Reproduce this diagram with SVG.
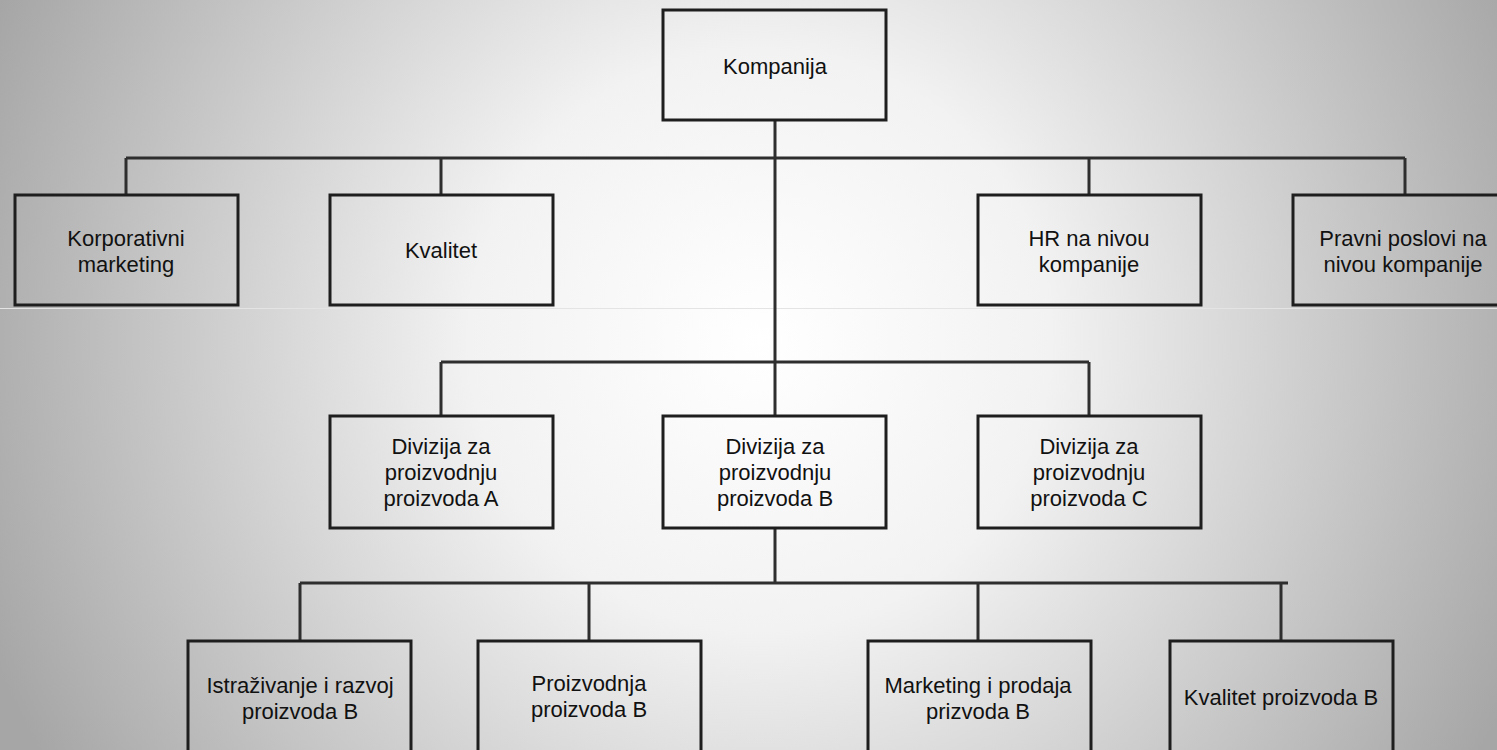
<svg xmlns="http://www.w3.org/2000/svg" width="1497" height="750" viewBox="0 0 1497 750">
  <defs>
    <radialGradient id="bg" cx="760" cy="340" r="830" gradientUnits="userSpaceOnUse">
      <stop offset="0" stop-color="#ffffff"/>
      <stop offset="0.35" stop-color="#f2f2f2"/>
      <stop offset="1" stop-color="#a6a6a6"/>
    </radialGradient>
    <style>
      .box { fill: none; stroke: #1e1e1e; stroke-width: 3; }
      .wire { fill: none; stroke: #2e2e2e; stroke-width: 3; }
      .lbl { font-family: "Liberation Sans", Arial, sans-serif; font-size: 22px; fill: #111; text-anchor: middle; }
    </style>
  </defs>

  <!-- background -->
  <rect x="0" y="0" width="1497" height="750" fill="url(#bg)"/>
  <line x1="0" y1="308.5" x2="1497" y2="308.5" stroke="#e4e4e4" stroke-width="1"/>

  <!-- connectors -->
  <g id="connectors">
    <path class="wire" d="M775 120 V415 M775 528 V583"/>
    <path class="wire" d="M126 158 H1405 M126 158 V195 M441 158 V195 M1089 158 V195 M1405 158 V195"/>
    <path class="wire" d="M441 362 H1089 M441 362 V415 M1089 362 V415"/>
    <path class="wire" d="M300 583 H1288 M300 583 V641 M589 583 V641 M978 583 V641 M1281 583 V641"/>
  </g>

  <!-- top -->
  <g id="kompanija">
    <rect class="box" x="663" y="10" width="223" height="110"/>
    <text class="lbl" x="775" y="74">Kompanija</text>
  </g>

  <!-- corporate functions -->
  <g id="korporativni-marketing">
    <rect class="box" x="15" y="195" width="223" height="110"/>
    <text class="lbl" x="126" y="246">Korporativni</text>
    <text class="lbl" x="126" y="272">marketing</text>
  </g>
  <g id="kvalitet">
    <rect class="box" x="330" y="195" width="223" height="110"/>
    <text class="lbl" x="441" y="258">Kvalitet</text>
  </g>
  <g id="hr">
    <rect class="box" x="978" y="195" width="223" height="110"/>
    <text class="lbl" x="1089" y="246">HR na nivou</text>
    <text class="lbl" x="1089" y="272">kompanije</text>
  </g>
  <g id="pravni-poslovi">
    <rect class="box" x="1293" y="195" width="223" height="110"/>
    <text class="lbl" x="1403" y="246">Pravni poslovi na</text>
    <text class="lbl" x="1403" y="272">nivou kompanije</text>
  </g>

  <!-- divisions -->
  <g id="divizija-a">
    <rect class="box" x="330" y="416" width="223" height="112"/>
    <text class="lbl" x="441" y="454">Divizija za</text>
    <text class="lbl" x="441" y="480">proizvodnju</text>
    <text class="lbl" x="441" y="506">proizvoda A</text>
  </g>
  <g id="divizija-b">
    <rect class="box" x="663" y="416" width="223" height="112"/>
    <text class="lbl" x="775" y="454">Divizija za</text>
    <text class="lbl" x="775" y="480">proizvodnju</text>
    <text class="lbl" x="775" y="506">proizvoda B</text>
  </g>
  <g id="divizija-c">
    <rect class="box" x="978" y="416" width="223" height="112"/>
    <text class="lbl" x="1089" y="454">Divizija za</text>
    <text class="lbl" x="1089" y="480">proizvodnju</text>
    <text class="lbl" x="1089" y="506">proizvoda C</text>
  </g>

  <!-- departments of division B -->
  <g id="istrazivanje">
    <rect class="box" x="188" y="641" width="223" height="120"/>
    <text class="lbl" x="300" y="693">Istraživanje i razvoj</text>
    <text class="lbl" x="300" y="719">proizvoda B</text>
  </g>
  <g id="proizvodnja">
    <rect class="box" x="478" y="641" width="223" height="120"/>
    <text class="lbl" x="589" y="691">Proizvodnja</text>
    <text class="lbl" x="589" y="717">proizvoda B</text>
  </g>
  <g id="marketing-prodaja">
    <rect class="box" x="868" y="641" width="223" height="120"/>
    <text class="lbl" x="978" y="693">Marketing i prodaja</text>
    <text class="lbl" x="978" y="719">prizvoda B</text>
  </g>
  <g id="kvalitet-b">
    <rect class="box" x="1170" y="641" width="223" height="120"/>
    <text class="lbl" x="1281" y="705">Kvalitet proizvoda B</text>
  </g>
</svg>
